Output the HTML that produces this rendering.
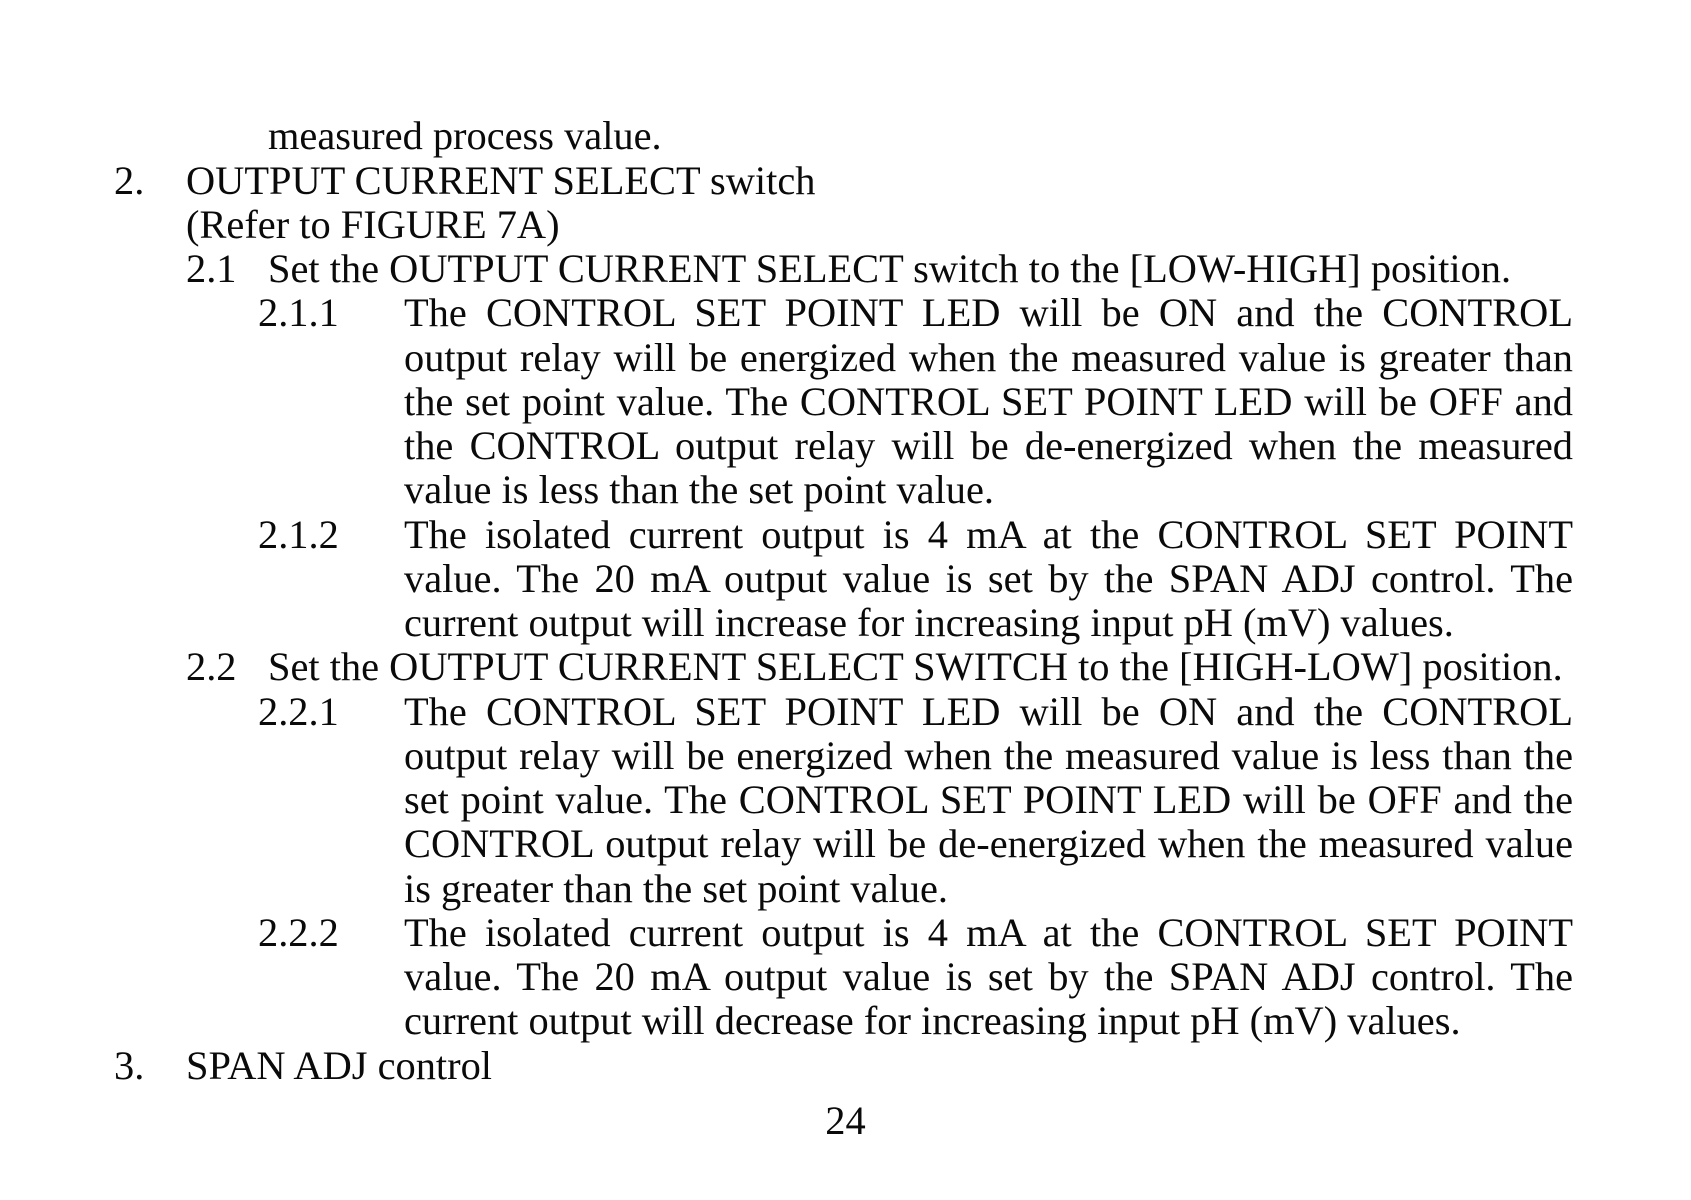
<!DOCTYPE html>
<html>
<head>
<meta charset="utf-8">
<style>
  html, body {
    margin: 0;
    padding: 0;
    background: #ffffff;
  }
  body {
    width: 1691px;
    height: 1200px;
    position: relative;
    overflow: hidden;
    font-family: "Liberation Serif", "Times New Roman", serif;
    font-size: 40.4px;
    color: #0a0a0a;
  }
  .ln {
    position: absolute;
    height: 44.25px;
    line-height: 44.25px;
    white-space: nowrap;
  }
  .j {
    left: 404px;
    width: 1169px;
    text-align: justify;
    text-align-last: justify;
    white-space: normal;
  }
  .b {
    left: 404px;
  }
</style>
</head>
<body>

<div class="ln" style="top:114.4px; left:268px;">measured process value.</div>

<div class="ln" style="top:158.65px; left:114px;">2.</div>
<div class="ln" style="top:158.65px; left:186px;">OUTPUT CURRENT SELECT switch</div>

<div class="ln" style="top:202.9px; left:186px;">(Refer to FIGURE 7A)</div>

<div class="ln" style="top:247.15px; left:186px;">2.1</div>
<div class="ln" style="top:247.15px; left:268px;">Set the OUTPUT CURRENT SELECT switch to the [LOW-HIGH] position.</div>

<div class="ln" style="top:291.4px; left:258px;">2.1.1</div>
<div class="ln j" style="top:291.4px;">The CONTROL SET POINT LED will be ON and the CONTROL</div>
<div class="ln j" style="top:335.65px;">output relay will be energized when the measured value is greater than</div>
<div class="ln j" style="top:379.9px;">the set point value. The CONTROL SET POINT LED will be OFF and</div>
<div class="ln j" style="top:424.15px;">the CONTROL output relay will be de-energized when the measured</div>
<div class="ln b" style="top:468.4px;">value is less than the set point value.</div>

<div class="ln" style="top:512.65px; left:258px;">2.1.2</div>
<div class="ln j" style="top:512.65px;">The isolated current output is 4 mA at the CONTROL SET POINT</div>
<div class="ln j" style="top:556.9px;">value. The 20 mA output value is set by the SPAN ADJ control. The</div>
<div class="ln b" style="top:601.15px;">current output will increase for increasing input pH (mV) values.</div>

<div class="ln" style="top:645.4px; left:186px;">2.2</div>
<div class="ln" style="top:645.4px; left:268px;">Set the OUTPUT CURRENT SELECT SWITCH to the [HIGH-LOW] position.</div>

<div class="ln" style="top:689.65px; left:258px;">2.2.1</div>
<div class="ln j" style="top:689.65px;">The CONTROL SET POINT LED will be ON and the CONTROL</div>
<div class="ln j" style="top:733.9px;">output relay will be energized when the measured value is less than the</div>
<div class="ln j" style="top:778.15px;">set point value. The CONTROL SET POINT LED will be OFF and the</div>
<div class="ln j" style="top:822.4px;">CONTROL output relay will be de-energized when the measured value</div>
<div class="ln b" style="top:866.65px;">is greater than the set point value.</div>

<div class="ln" style="top:910.9px; left:258px;">2.2.2</div>
<div class="ln j" style="top:910.9px;">The isolated current output is 4 mA at the CONTROL SET POINT</div>
<div class="ln j" style="top:955.15px;">value. The 20 mA output value is set by the SPAN ADJ control. The</div>
<div class="ln b" style="top:999.4px;">current output will decrease for increasing input pH (mV) values.</div>

<div class="ln" style="top:1043.65px; left:114px;">3.</div>
<div class="ln" style="top:1043.65px; left:186px;">SPAN ADJ control</div>

<div class="ln" style="top:1099.4px; left:0; width:1691px; text-align:center;">24</div>

</body>
</html>
